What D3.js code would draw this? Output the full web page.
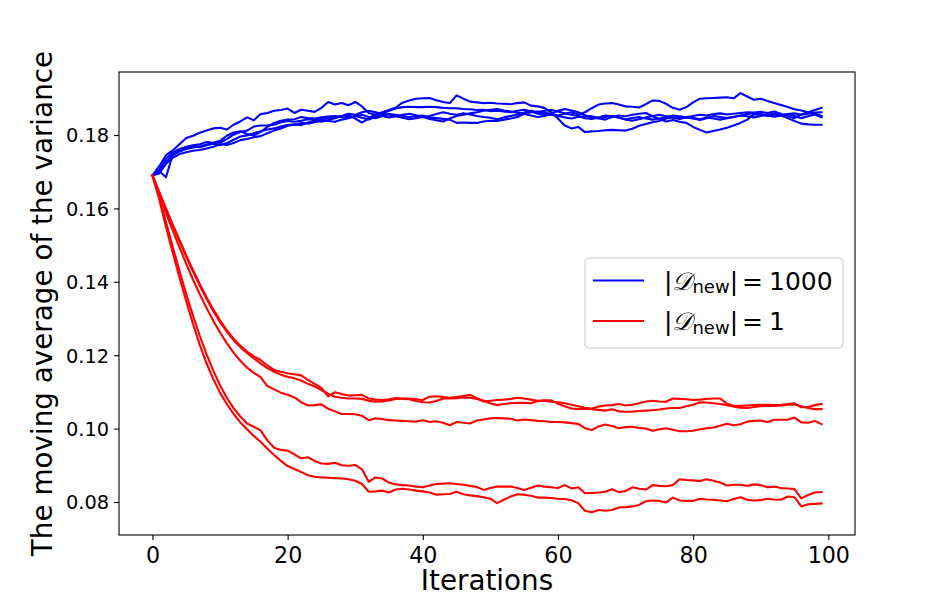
<!DOCTYPE html>
<html>
<head>
<meta charset="utf-8">
<script src="https://cdn.jsdelivr.net/npm/d3@7"></script>
<style>
  body { margin: 0; background: #fff; }
  text { font-family: "DejaVu Sans", sans-serif; fill: #000; }
</style>
</head>
<body>
<svg id="chart" width="950" height="600"></svg>
<script>
// values, one per iteration (0..99)
var blue1 = [0.1690, 0.1715, 0.1745, 0.1758, 0.1775, 0.1792, 0.1798, 0.1806, 0.1812, 0.1818,
  0.1820, 0.1815, 0.1828, 0.1837, 0.1848, 0.1840, 0.1857, 0.1860, 0.1866, 0.1868,
  0.1872, 0.1860, 0.1869, 0.1866, 0.1863, 0.1874, 0.1890, 0.1883, 0.1887, 0.1881,
  0.1890, 0.1878, 0.1860, 0.1855, 0.1852, 0.1848, 0.1851, 0.1847, 0.1843, 0.1846,
  0.1849, 0.1844, 0.1840, 0.1837, 0.1845, 0.1852, 0.1855, 0.1859, 0.1862, 0.1866,
  0.1869, 0.1871, 0.1867, 0.1864, 0.1861, 0.1857, 0.1853, 0.1849, 0.1852, 0.1858,
  0.1866, 0.1871, 0.1867, 0.1862, 0.1854, 0.1848, 0.1845, 0.1849, 0.1852, 0.1848,
  0.1842, 0.1839, 0.1843, 0.1848, 0.1852, 0.1855, 0.1851, 0.1847, 0.1844, 0.1848,
  0.1845, 0.1841, 0.1846, 0.1852, 0.1849, 0.1846, 0.1849, 0.1853, 0.1857, 0.1860,
  0.1857, 0.1853, 0.1850, 0.1853, 0.1857, 0.1852, 0.1846, 0.1851, 0.1856, 0.1848];

var blue2 = [0.1690, 0.1705, 0.1735, 0.1752, 0.1762, 0.1768, 0.1772, 0.1775, 0.1781, 0.1779,
  0.1784, 0.1798, 0.1807, 0.1810, 0.1803, 0.1799, 0.1808, 0.1822, 0.1833, 0.1839,
  0.1842, 0.1843, 0.1849, 0.1846, 0.1845, 0.1848, 0.1850, 0.1852, 0.1849, 0.1854,
  0.1845, 0.1834, 0.1845, 0.1856, 0.1862, 0.1868, 0.1875, 0.1888, 0.1894, 0.1899,
  0.1900, 0.1901, 0.1895, 0.1890, 0.1887, 0.1908, 0.1899, 0.1891, 0.1889, 0.1887,
  0.1888, 0.1886, 0.1885, 0.1884, 0.1887, 0.1889, 0.1880, 0.1878, 0.1874, 0.1862,
  0.1845, 0.1826, 0.1818, 0.1822, 0.1808, 0.1810, 0.1811, 0.1813, 0.1814, 0.1813,
  0.1812, 0.1817, 0.1825, 0.1830, 0.1835, 0.1838, 0.1845, 0.1848, 0.1846, 0.1849,
  0.1852, 0.1855, 0.1853, 0.1857, 0.1859, 0.1856, 0.1858, 0.1860, 0.1862, 0.1861,
  0.1863, 0.1860, 0.1864, 0.1858, 0.1852, 0.1846, 0.1856, 0.1862, 0.1868, 0.1874];

var blue3 = [0.1690, 0.1698, 0.1725, 0.1745, 0.1757, 0.1765, 0.1768, 0.1767, 0.1772, 0.1776,
  0.1772, 0.1778, 0.1787, 0.1796, 0.1799, 0.1805, 0.1810, 0.1815, 0.1818, 0.1823,
  0.1827, 0.1829, 0.1827, 0.1834, 0.1838, 0.1836, 0.1841, 0.1846, 0.1852, 0.1858,
  0.1855, 0.1862, 0.1866, 0.1862, 0.1858, 0.1866, 0.1872, 0.1876, 0.1877, 0.1876,
  0.1876, 0.1877, 0.1876, 0.1874, 0.1873, 0.1873, 0.1871, 0.1870, 0.1868, 0.1869,
  0.1865, 0.1866, 0.1864, 0.1862, 0.1866, 0.1869, 0.1864, 0.1858, 0.1856, 0.1855,
  0.1853, 0.1858, 0.1862, 0.1855, 0.1862, 0.1873, 0.1883, 0.1886, 0.1887, 0.1883,
  0.1878, 0.1877, 0.1875, 0.1884, 0.1894, 0.1893, 0.1885, 0.1874, 0.1869, 0.1876,
  0.1889, 0.1899, 0.1900, 0.1901, 0.1902, 0.1903, 0.1900, 0.1914, 0.1905, 0.1896,
  0.1899, 0.1893, 0.1887, 0.1882, 0.1876, 0.1870, 0.1867, 0.1862, 0.1858, 0.1852];

var blue4 = [0.1690, 0.1702, 0.1685, 0.1746, 0.1755, 0.1762, 0.1766, 0.1769, 0.1774, 0.1778,
  0.1779, 0.1789, 0.1801, 0.1808, 0.1812, 0.1823, 0.1826, 0.1826, 0.1828, 0.1835,
  0.1838, 0.1836, 0.1839, 0.1843, 0.1841, 0.1844, 0.1846, 0.1849, 0.1852, 0.1848,
  0.1851, 0.1855, 0.1849, 0.1846, 0.1852, 0.1857, 0.1855, 0.1852, 0.1849, 0.1851,
  0.1853, 0.1848, 0.1846, 0.1844, 0.1842, 0.1833, 0.1834, 0.1833, 0.1833, 0.1837,
  0.1839, 0.1838, 0.1842, 0.1845, 0.1849, 0.1858, 0.1862, 0.1864, 0.1861, 0.1857,
  0.1852, 0.1848, 0.1845, 0.1849, 0.1852, 0.1851, 0.1846, 0.1842, 0.1849, 0.1853,
  0.1851, 0.1855, 0.1858, 0.1860, 0.1851, 0.1844, 0.1837, 0.1841, 0.1836, 0.1833,
  0.1822, 0.1814, 0.1807, 0.1811, 0.1815, 0.1820, 0.1826, 0.1833, 0.1842, 0.1857,
  0.1855, 0.1852, 0.1856, 0.1854, 0.1857, 0.1859, 0.1855, 0.1858, 0.1861, 0.1862];

var blue5 = [0.1690, 0.1695, 0.1722, 0.1738, 0.1748, 0.1753, 0.1757, 0.1759, 0.1763, 0.1768,
  0.1775, 0.1773, 0.1778, 0.1786, 0.1789, 0.1794, 0.1797, 0.1805, 0.1812, 0.1818,
  0.1825, 0.1828, 0.1833, 0.1831, 0.1835, 0.1840, 0.1838, 0.1836, 0.1842, 0.1846,
  0.1852, 0.1847, 0.1842, 0.1850, 0.1858, 0.1856, 0.1851, 0.1855, 0.1858, 0.1854,
  0.1849, 0.1852, 0.1857, 0.1862, 0.1858, 0.1855, 0.1859, 0.1856, 0.1852, 0.1849,
  0.1847, 0.1843, 0.1848, 0.1852, 0.1856, 0.1861, 0.1866, 0.1862, 0.1866, 0.1868,
  0.1864, 0.1859, 0.1855, 0.1851, 0.1846, 0.1844, 0.1848, 0.1853, 0.1851, 0.1847,
  0.1843, 0.1846, 0.1849, 0.1845, 0.1842, 0.1845, 0.1849, 0.1853, 0.1851, 0.1848,
  0.1846, 0.1843, 0.1848, 0.1845, 0.1842, 0.1846, 0.1849, 0.1853, 0.1851, 0.1848,
  0.1852, 0.1856, 0.1858, 0.1853, 0.1846, 0.1838, 0.1831, 0.1829, 0.1828, 0.1828];

var red1 = [0.1690, 0.1645, 0.1600, 0.1556, 0.1514, 0.1472, 0.1432, 0.1394, 0.1358, 0.1325,
  0.1295, 0.1268, 0.1245, 0.1226, 0.1210, 0.1197, 0.1187, 0.1172, 0.1160, 0.1155,
  0.1151, 0.1148, 0.1145, 0.1133, 0.1122, 0.1111, 0.1088, 0.1099, 0.1094, 0.1090,
  0.1091, 0.1092, 0.1082, 0.1079, 0.1078, 0.1080, 0.1083, 0.1082, 0.1082, 0.1080,
  0.1078, 0.1087, 0.1088, 0.1086, 0.1084, 0.1086, 0.1089, 0.1092, 0.1083, 0.1076,
  0.1069, 0.1064, 0.1067, 0.1069, 0.1070, 0.1070, 0.1069, 0.1075, 0.1076, 0.1073,
  0.1072, 0.1069, 0.1065, 0.1061, 0.1057, 0.1055, 0.1060, 0.1063, 0.1064, 0.1067,
  0.1063, 0.1065, 0.1069, 0.1074, 0.1076, 0.1074, 0.1073, 0.1082, 0.1081, 0.1080,
  0.1078, 0.1079, 0.1081, 0.1082, 0.1082, 0.1068, 0.1062, 0.1062, 0.1063, 0.1064,
  0.1065, 0.1065, 0.1064, 0.1065, 0.1067, 0.1069, 0.1058, 0.1059, 0.1064, 0.1067];

var red2 = [0.1690, 0.1643, 0.1597, 0.1553, 0.1510, 0.1468, 0.1428, 0.1390, 0.1354, 0.1320,
  0.1290, 0.1264, 0.1241, 0.1222, 0.1206, 0.1191, 0.1178, 0.1165, 0.1155, 0.1147,
  0.1141, 0.1137, 0.1131, 0.1122, 0.1115, 0.1105, 0.1095, 0.1087, 0.1084, 0.1082,
  0.1082, 0.1081, 0.1076, 0.1073, 0.1074, 0.1077, 0.1081, 0.1081, 0.1080, 0.1075,
  0.1072, 0.1071, 0.1075, 0.1082, 0.1082, 0.1083, 0.1085, 0.1084, 0.1081, 0.1074,
  0.1076, 0.1078, 0.1079, 0.1081, 0.1084, 0.1082, 0.1079, 0.1076, 0.1077, 0.1077,
  0.1068, 0.1061, 0.1055, 0.1053, 0.1054, 0.1053, 0.1051, 0.1049, 0.1053, 0.1047,
  0.1046, 0.1046, 0.1048, 0.1049, 0.1050, 0.1052, 0.1055, 0.1056, 0.1056, 0.1061,
  0.1065, 0.1072, 0.1071, 0.1069, 0.1067, 0.1064, 0.1060, 0.1057, 0.1056, 0.1059,
  0.1061, 0.1062, 0.1062, 0.1063, 0.1065, 0.1066, 0.1061, 0.1056, 0.1053, 0.1053];

var red3 = [0.1690, 0.1638, 0.1588, 0.1540, 0.1494, 0.1449, 0.1406, 0.1366, 0.1329, 0.1294,
  0.1262, 0.1233, 0.1207, 0.1185, 0.1166, 0.1152, 0.1140, 0.1116, 0.1107, 0.1098,
  0.1092, 0.1085, 0.1072, 0.1063, 0.1064, 0.1066, 0.1054, 0.1047, 0.1040, 0.1040,
  0.1039, 0.1035, 0.1023, 0.1028, 0.1026, 0.1023, 0.1022, 0.1021, 0.1020, 0.1019,
  0.1023, 0.1018, 0.1020, 0.1016, 0.1009, 0.1018, 0.1016, 0.1014, 0.1022, 0.1025,
  0.1028, 0.1029, 0.1028, 0.1027, 0.1022, 0.1025, 0.1023, 0.1021, 0.1020, 0.1018,
  0.1018, 0.1017, 0.1015, 0.1013, 0.1001, 0.0996, 0.1006, 0.1011, 0.1007, 0.1001,
  0.1004, 0.1005, 0.1002, 0.1000, 0.0994, 0.0998, 0.1001, 0.0997, 0.0993, 0.0993,
  0.0994, 0.0998, 0.1001, 0.1003, 0.1008, 0.1013, 0.1009, 0.1012, 0.1019, 0.1021,
  0.1022, 0.1018, 0.1024, 0.1024, 0.1024, 0.1030, 0.1017, 0.1016, 0.1021, 0.1012];

var red4 = [0.1690, 0.1632, 0.1563, 0.1495, 0.1430, 0.1367, 0.1308, 0.1253, 0.1203, 0.1158,
  0.1118, 0.1084, 0.1056, 0.1033, 0.1014, 0.1005, 0.0995, 0.0968, 0.0948, 0.0942,
  0.0940, 0.0930, 0.0919, 0.0922, 0.0912, 0.0905, 0.0904, 0.0907, 0.0900, 0.0899,
  0.0901, 0.0889, 0.0855, 0.0867, 0.0864, 0.0853, 0.0848, 0.0846, 0.0845, 0.0842,
  0.0840, 0.0845, 0.0849, 0.0850, 0.0851, 0.0849, 0.0847, 0.0844, 0.0841, 0.0833,
  0.0838, 0.0842, 0.0842, 0.0842, 0.0838, 0.0833, 0.0839, 0.0845, 0.0842, 0.0840,
  0.0838, 0.0846, 0.0837, 0.0840, 0.0824, 0.0825, 0.0826, 0.0828, 0.0835, 0.0827,
  0.0830, 0.0840, 0.0836, 0.0834, 0.0846, 0.0844, 0.0843, 0.0846, 0.0862, 0.0860,
  0.0859, 0.0857, 0.0862, 0.0858, 0.0853, 0.0845, 0.0847, 0.0847, 0.0844, 0.0848,
  0.0846, 0.0840, 0.0842, 0.0838, 0.0837, 0.0835, 0.0810, 0.0819, 0.0826, 0.0827];

var red5 = [0.1690, 0.1625, 0.1550, 0.1480, 0.1412, 0.1347, 0.1285, 0.1228, 0.1178, 0.1135,
  0.1098, 0.1067, 0.1040, 0.1017, 0.0998, 0.0980, 0.0964, 0.0945, 0.0928, 0.0912,
  0.0898, 0.0890, 0.0882, 0.0873, 0.0869, 0.0867, 0.0866, 0.0865, 0.0864, 0.0862,
  0.0858, 0.0849, 0.0828, 0.0829, 0.0831, 0.0826, 0.0834, 0.0836, 0.0834, 0.0831,
  0.0829, 0.0826, 0.0820, 0.0821, 0.0822, 0.0828, 0.0821, 0.0818, 0.0816, 0.0813,
  0.0809, 0.0797, 0.0806, 0.0815, 0.0821, 0.0820, 0.0817, 0.0812, 0.0812, 0.0811,
  0.0809, 0.0808, 0.0805, 0.0797, 0.0776, 0.0772, 0.0778, 0.0776, 0.0778, 0.0785,
  0.0786, 0.0788, 0.0792, 0.0802, 0.0804, 0.0803, 0.0799, 0.0812, 0.0804, 0.0803,
  0.0803, 0.0809, 0.0807, 0.0806, 0.0804, 0.0802, 0.0808, 0.0813, 0.0806, 0.0804,
  0.0805, 0.0809, 0.0807, 0.0806, 0.0815, 0.0813, 0.0788, 0.0794, 0.0795, 0.0796];

var xTicks = [0, 20, 40, 60, 80, 100];
var yTicks = [0.08, 0.10, 0.12, 0.14, 0.16, 0.18];
var legendLabels = ['1000', '1'];

var blueSeries = [blue1, blue2, blue3, blue4, blue5];
var redSeries = [red1, red2, red3, red4, red5];

function drawChart(){

	var svg = d3.select('#chart');

	// axes box in page pixels
	var boxLeft = 119, boxRight = 855, boxTop = 72, boxBottom = 535;

	var x = d3.scaleLinear().domain([-4.95, 103.95]).range([boxLeft, boxRight]);
	var y = d3.scaleLinear().domain([0.07101, 0.19717]).range([boxBottom, boxTop]);

	var line = d3.line()
		.x((d, i) => x(i))
		.y((d) => y(d));

	svg.append('clipPath').attr('id', 'plot-clip')
		.append('rect')
			.attr('x', boxLeft).attr('y', boxTop)
			.attr('width', boxRight - boxLeft).attr('height', boxBottom - boxTop);

	var plot = svg.append('g').attr('clip-path', 'url(#plot-clip)');

	plot.selectAll('path.blue')
			.data(blueSeries)
		.enter()
		.append('path')
			.attr('class', 'blue')
			.attr('d', line)
			.attr('fill', 'none')
			.attr('stroke', '#0000ff')
			.attr('stroke-width', 2.1)
			.attr('stroke-linejoin', 'round')
			.attr('stroke-linecap', 'square');

	plot.selectAll('path.red')
			.data(redSeries)
		.enter()
		.append('path')
			.attr('class', 'red')
			.attr('d', line)
			.attr('fill', 'none')
			.attr('stroke', '#ff0000')
			.attr('stroke-width', 2.1)
			.attr('stroke-linejoin', 'round')
			.attr('stroke-linecap', 'square');

	// axes
	var xAxis = svg.append('g')
		.attr('transform', 'translate(0,' + boxBottom + ')')
		.call(d3.axisBottom(x).tickValues(xTicks).tickSize(4.9).tickPadding(6).tickFormat(d3.format('d')));

	xAxis.selectAll('text').style('font-size', '22.2px').attr('fill', '#000').attr('dy', '0.76em');

	var yAxis = svg.append('g')
		.attr('transform', 'translate(' + boxLeft + ',0)')
		.call(d3.axisLeft(y).tickValues(yTicks).tickSize(4.9).tickPadding(5).tickFormat(d3.format('.2f')));

	yAxis.selectAll('text').style('font-size', '19.4px').attr('fill', '#000').attr('dy', '0.36em');

	svg.selectAll('.domain').remove();
	svg.selectAll('.tick line').attr('stroke', '#000').attr('stroke-width', 1.1);
	svg.selectAll('.tick text').style('font-family', '"DejaVu Sans", sans-serif');

	svg.append('rect')
		.attr('x', boxLeft).attr('y', boxTop)
		.attr('width', boxRight - boxLeft).attr('height', boxBottom - boxTop)
		.attr('fill', 'none')
		.attr('stroke', '#000')
		.attr('stroke-width', 1.1);

	// axis titles
	svg.append('text')
		.attr('x', (boxLeft + boxRight) / 2)
		.attr('y', 590)
		.attr('text-anchor', 'middle')
		.style('font-size', '27.8px')
		.text('Iterations');

	svg.append('text')
		.attr('transform', 'translate(52,' + ((boxTop + boxBottom) / 2) + ') rotate(-90)')
		.attr('text-anchor', 'middle')
		.style('font-size', '27.8px')
		.text('The moving average of the variance');

	// legend
	var legend = svg.append('g');

	legend.append('rect')
		.attr('x', 585).attr('y', 258)
		.attr('width', 258).attr('height', 90)
		.attr('rx', 4)
		.attr('fill', '#fff').attr('fill-opacity', 0.8)
		.attr('stroke', '#cccccc').attr('stroke-width', 1.1);

	var legendRows = legend.selectAll('g.row')
			.data(legendLabels)
		.enter()
		.append('g')
			.attr('class', 'row')
			.attr('transform', (d, i) => 'translate(0,' + (280.5 + i * 40.5) + ')');

	legendRows.append('line')
		.attr('x1', 593).attr('x2', 644)
		.attr('y1', 0).attr('y2', 0)
		.attr('stroke', (d, i) => i === 0 ? '#0000ff' : '#ff0000')
		.attr('stroke-width', 2.1);

	var label = legendRows.append('text')
		.attr('x', 664)
		.attr('y', 9)
		.style('font-size', '25px');

	label.append('tspan').text('|');
	label.append('tspan').attr('font-style', 'italic').text('\u{1D49F}');
	label.append('tspan').style('font-size', '18px').attr('dy', 3.5).text('new');
	label.append('tspan').attr('dy', -3.5).text('|');
	label.append('tspan').attr('dx', 4).text('=');
	label.append('tspan').attr('dx', 6).text((d) => d);
}

drawChart();
</script>
</body>
</html>
